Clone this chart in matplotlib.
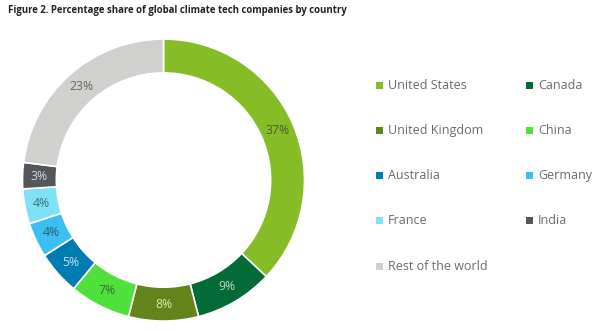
import matplotlib
matplotlib.use("Agg")
import matplotlib.pyplot as plt
from matplotlib.patches import Rectangle

plt.rcParams['font.family'] = ['Open Sans', 'DejaVu Sans']

countries = ["United States", "Canada", "United Kingdom", "China", "Australia",
             "Germany", "France", "India", "Rest of the world"]
shares = [37, 9, 8, 7, 5, 4, 4, 3, 23]
colors = ["#86BC25", "#046A38", "#62841B", "#4FE03B", "#007CB0",
          "#3BBFF2", "#7FE1F5", "#53565A", "#D0D0CE"]
label_colors = ["#4a5a3a", "#b8dcc0", "#dfe8a8", "#3d6b3a", "#bfe3f5",
                "#2d5b70", "#3d6f78", "#d8d8d8", "#666666"]
title = "Figure 2. Percentage share of global climate tech companies by country"

fig = plt.figure(figsize=(6.0, 3.32), dpi=100)
fig.patch.set_facecolor("white")

ax = fig.add_axes([0.0375, 0.033, 0.47, 0.8494])
wedges, texts = ax.pie(shares, colors=colors, startangle=90, counterclock=False,
                       radius=1.0,
                       wedgeprops=dict(width=0.24, edgecolor="white", linewidth=1.2),
                       labels=[f"{v}%" for v in shares], labeldistance=0.88)
for t, c in zip(texts, label_colors):
    t.set_color(c)
    t.set_fontsize(8.8)
    t.set_ha("center")
    t.set_va("center")
ax.set_xlim(-1.0, 1.0)
ax.set_ylim(-1.0, 1.0)
ax.set_aspect("equal")
ax.axis("off")

fig.text(8 / 600, 1 - 11 / 332, title, fontsize=6.9, fontweight="bold",
         color="#222222", ha="left", va="center")

# legend (row-major, two columns)
col_x = [376 / 600, 526 / 600]
row_y0 = 85
row_dy = 45.3
sq = 7
for i, (name, c) in enumerate(zip(countries, colors)):
    r, col = divmod(i, 2)
    ypx = row_y0 + r * row_dy
    x = col_x[col]
    y = 1 - ypx / 332
    fig.patches.append(Rectangle((x, y - (sq / 2) / 332), sq / 600, sq / 332,
                                 transform=fig.transFigure, facecolor=c,
                                 edgecolor="none"))
    fig.text(x + 12 / 600, y, name, fontsize=9, color="#6b6b6b",
             ha="left", va="center")

fig.savefig("out.png", dpi=100, facecolor="white")
